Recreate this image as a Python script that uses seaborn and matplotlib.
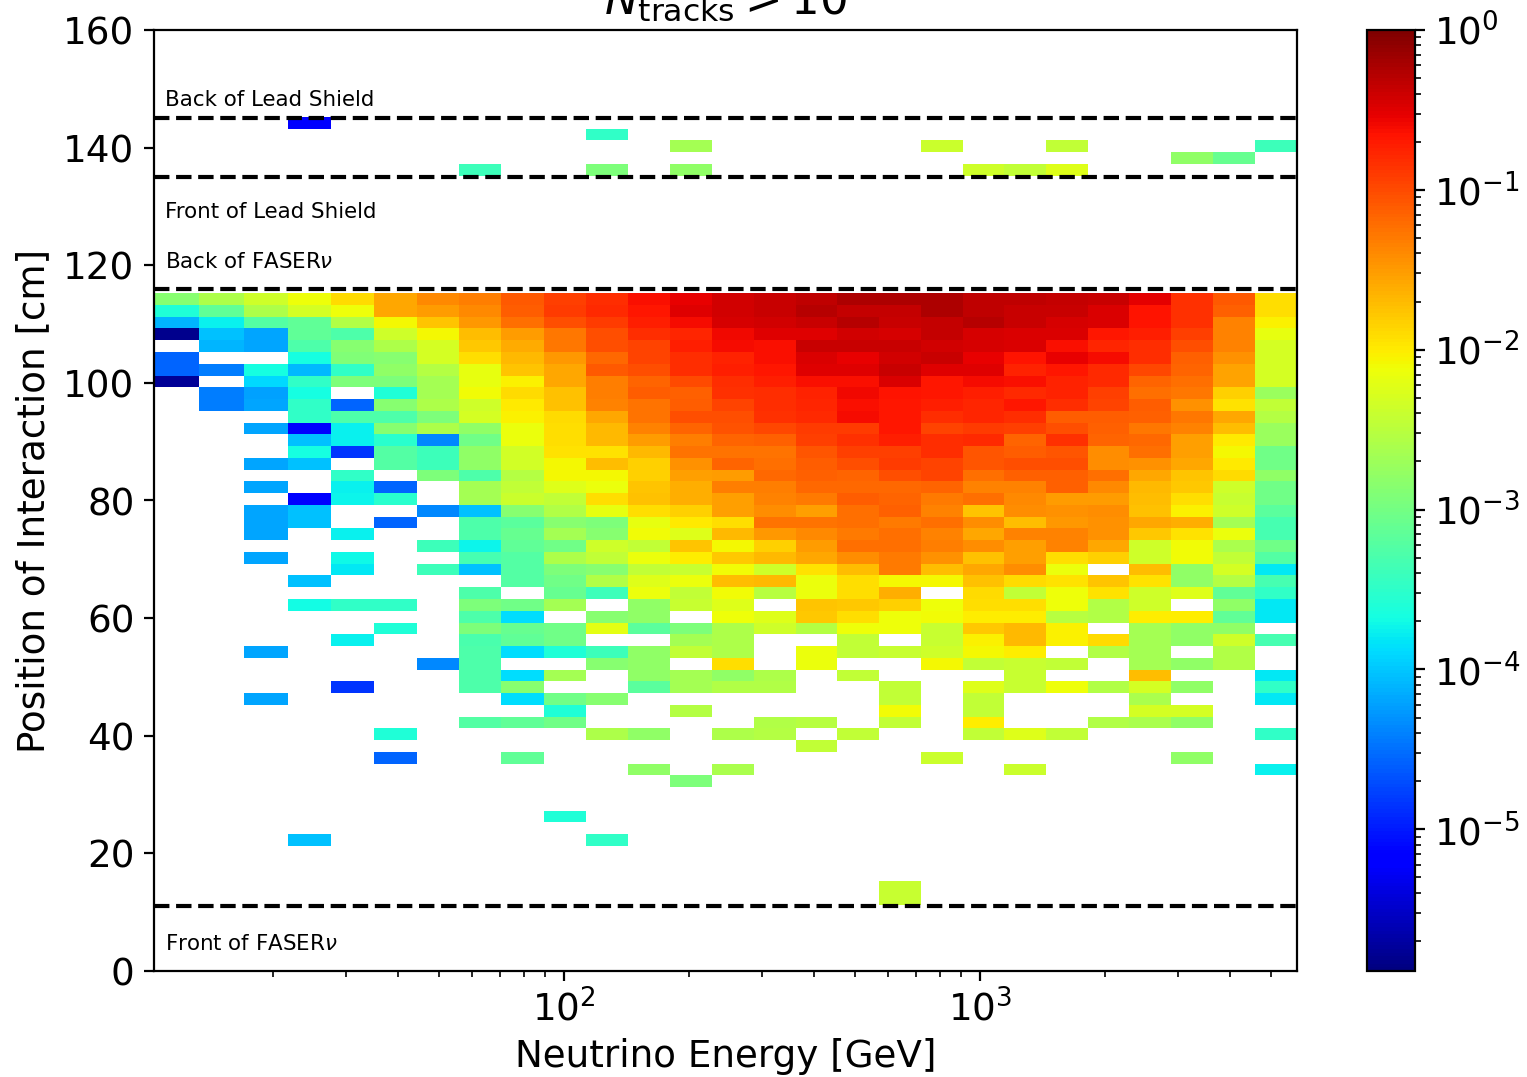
"""Neutrino interaction position vs energy, N_tracks > 10."""
import numpy as np
import pandas as pd
import matplotlib
matplotlib.use("Agg")
import matplotlib.pyplot as plt
from matplotlib.colors import LogNorm
import seaborn as sns

# ── Data ──────────────────────────────────────────────────────────────────────
# energy bin edges [GeV]
energy_edges = [10.34, 13.26, 17.01, 21.7, 27.5, 34.9, 44.3, 55.9, 70.6, 89.5,
                113, 142.5, 179.8, 226.9, 286.3, 361, 453, 572, 721, 910,
                1142, 1441, 1818, 2281, 2878, 3632, 4583, 5781]
# top edge of the dense block and height of a position bin [cm]
block_top = 115.25
bin_height = 2.0
y_floor = 11.25
y_ceiling = 145.25

_ = np.nan
# log10 of the colour value, read per row from the top of the block downwards
block_rows = [
    [-2.87,-2.59,-2.36,-2.13,-1.89,-1.58,-1.38,-1.32,-1.09,-.93,-.82,-.63,-.55,-.42,-.39,-.33,-.24,-.25,-.24,-.33,-.33,-.35,-.39,-.52,-.85,-1.09,-1.93],
    [-3.59,-3.13,-2.59,-2.31,-2.12,-1.58,-1.50,-1.38,-1.12,-.91,-.8,-.67,-.5,-.42,-.39,-.29,-.35,-.35,-.24,-.33,-.37,-.39,-.47,-.65,-.85,-1.13,-1.93],
    [-4.11,-3.77,-3.22,-3.13,-2.56,-2.08,-1.77,-1.48,-1.22,-1.03,-.91,-.72,-.62,-.45,-.42,-.37,-.29,-.39,-.35,-.29,-.39,-.44,-.47,-.65,-.85,-1.35,-2.03],
    [-5.8,-4.04,-4.19,-3.13,-3.27,-2.36,-2.08,-1.71,-1.5,-1.27,-1.03,-.82,-.78,-.58,-.5,-.5,-.42,-.44,-.35,-.44,-.46,-.46,-.68,-.72,-.93,-1.35,-2.18],
    [_,-4.11,-4.19,-3.27,-2.87,-2.59,-2.31,-1.79,-1.59,-1.27,-1.03,-.96,-.72,-.6,-.63,-.39,-.37,-.39,-.42,-.44,-.46,-.63,-.78,-.82,-1.03,-1.35,-2.31],
    [-4.56,_,_,-3.67,-2.91,-2.87,-2.31,-1.93,-1.69,-1.48,-1.19,-.96,-.82,-.75,-.63,-.46,-.55,-.42,-.39,-.53,-.65,-.55,-.6,-.82,-1.13,-1.43,-2.31],
    [-4.56,-4.42,-3.67,-4.08,-3.48,-2.8,-2.53,-2.18,-1.77,-1.58,-1.09,-1.03,-.82,-.72,-.68,-.5,-.5,-.39,-.5,-.5,-.75,-.68,-.8,-.98,-1.17,-1.55,-2.31],
    [-5.75,_,-3.9,-3.48,-2.94,-2.94,-2.65,-2.18,-2.03,-1.58,-1.32,-1.15,-1.0,-.82,-.72,-.63,-.63,-.47,-.68,-.6,-.63,-.75,-.8,-1.15,-1.22,-1.55,-2.31],
    [_,-4.42,-4.21,-3.67,_,-3.59,-2.65,-2.1,-1.89,-1.73,-1.32,-1.12,-1.13,-.85,-.82,-.75,-.58,-.65,-.68,-.72,-.8,-.75,-.93,-1.22,-1.27,-1.82,-2.72],
    [_,-4.42,-4.19,-3.48,-4.56,-2.87,-2.59,-2.36,-1.99,-1.73,-1.35,-1.25,-1.12,-.96,-.82,-.78,-.63,-.68,-.72,-.78,-.68,-.82,-.96,-1.12,-1.43,-1.94,-2.45],
    [_,_,_,-3.48,-3.28,-3.28,-2.94,-2.31,-2.03,-1.89,-1.58,-1.25,-1.03,-1.03,-.85,-.8,-.6,-.68,-.82,-.78,-.82,-1.12,-1.12,-1.13,-1.27,-1.58,-2.53],
    [_,_,-4.19,-5.2,-3.77,-2.87,-2.59,-2.8,-2.15,-1.93,-1.69,-1.35,-1.15,-1.04,-.98,-.91,-.91,-.68,-.96,-.91,-.93,-1.03,-1.13,-1.27,-1.35,-1.71,-2.72],
    [_,_,_,-4.04,-3.77,-3.54,-4.36,-3.03,-2.16,-1.93,-1.69,-1.5,-1.32,-1.17,-1.13,-.93,-.85,-.72,-.82,-.8,-1.17,-.85,-1.17,-1.19,-1.52,-1.99,-2.72],
    [_,_,_,-3.67,-4.85,-3.22,-3.38,-2.8,-2.33,-1.94,-1.94,-1.69,-1.25,-1.25,-1.25,-1.06,-.93,-.93,-.82,-1.06,-1.12,-1.06,-1.41,-1.22,-1.52,-2.09,-3.03],
    [_,_,-4.19,-4.04,_,-3.22,-3.38,-2.8,-2.33,-2.09,-1.71,-1.82,-1.43,-1.17,-1.22,-1.12,-1.03,-.91,-.96,-1.06,-1.03,-1.03,-1.41,-1.43,-1.58,-1.99,-3.03],
    [_,_,_,_,-3.48,_,-2.94,-3.28,-2.53,-2.09,-2.08,-1.82,-1.52,-1.5,-1.19,-1.13,-1.17,-1.03,-.96,-1.22,-1.13,-1.13,-1.22,-1.58,-1.77,-1.89,-2.8],
    [_,_,-4.19,_,-3.77,-4.56,_,-2.65,-2.45,-2.24,-2.16,-1.77,-1.63,-1.32,-1.32,-1.19,-1.19,-1.19,-1.15,-1.35,-1.35,-1.13,-1.38,-1.69,-1.79,-2.36,-3.03],
    [_,_,_,-5.2,-3.74,-3.54,_,-2.65,-2.39,-2.45,-1.93,-1.73,-1.63,-1.52,-1.35,-1.29,-1.12,-1.17,-1.31,-1.22,-1.38,-1.5,-1.5,-1.71,-1.93,-2.41,-3.03],
    [_,_,-4.19,-4.04,_,_,-4.36,-4.04,-2.87,-2.56,-2.18,-1.93,-1.82,-1.52,-1.41,-1.52,-1.22,-1.13,-1.35,-1.77,-1.41,-1.43,-1.41,-1.73,-2.03,-2.36,-3.19],
    [_,_,-4.19,-4.04,_,-4.56,_,-3.28,-3.19,-2.87,-2.94,-2.18,-1.99,-1.93,-1.25,-1.25,-1.22,-1.29,-1.22,-1.41,-1.71,-1.48,-1.43,-1.58,-1.63,-2.65,-3.33],
    [_,_,-4.19,_,-3.77,_,_,-3.28,-3.1,-2.65,-2.87,-2.1,-2.24,-1.69,-1.48,-1.38,-1.31,-1.22,-1.35,-1.57,-1.35,-1.35,-1.43,-1.79,-1.94,-2.16,-3.33],
    [_,_,_,_,_,_,-3.38,-3.74,-3.13,-3.03,-2.36,-2.45,-1.77,-2.08,-1.82,-1.5,-1.22,-1.22,-1.32,-1.41,-1.52,-1.35,-1.57,-2.36,-2.1,-2.62,-3.03],
    [_,_,-4.19,_,-3.72,_,_,-3.33,-3.22,-2.59,-2.45,-2.16,-2.02,-1.79,-1.69,-1.57,-1.41,-1.31,-1.43,-1.73,-1.52,-1.93,-1.82,-2.36,-2.1,-2.45,-3.22],
    [_,_,_,_,-3.81,_,-3.38,-4.04,-3.22,-2.94,-2.87,-2.45,-2.41,-2.1,-2.36,-1.94,-1.71,-1.31,-1.71,-1.58,-1.41,-2.16,_,-1.71,-2.8,-2.31,-3.81],
    [_,_,_,-4.04,_,_,_,_,-3.22,-3.03,-2.56,-2.24,-2.16,-1.71,-1.69,-2.16,-1.93,-2.09,-2.09,-1.73,-1.89,-1.94,-1.77,-1.94,-2.8,-2.53,-3.33],
    [_,_,_,_,_,_,_,-3.28,_,-3.1,-3.38,-2.16,-2.45,-2.1,-2.51,-2.16,-1.93,-1.63,_,-1.89,-2.45,-2.12,-1.94,-2.36,-2.24,-3.13,-3.48],
    [_,_,_,-3.69,-3.48,-3.48,_,-2.94,-3.03,-2.65,_,-2.8,-2.41,-2.24,_,-1.77,-1.79,-1.82,-2.12,-1.93,-1.91,-2.12,-2.56,-2.36,_,-2.8,-3.81],
    [_,_,_,_,_,_,_,-3.28,-3.88,_,-2.87,-2.8,_,-2.12,-2.24,-1.79,-1.93,-2.12,-2.1,-2.02,-2.02,-2.51,-2.56,-2.02,-2.02,-3.13,-3.81],
    [_,_,_,_,_,-3.59,_,-2.94,-3.09,-3.03,-2.2,-3.19,-2.94,-2.59,-2.36,-2.53,-2.12,-2.12,-2.41,-1.79,-1.69,-2.03,_,-2.65,-2.8,-2.8,_],
    [_,_,_,_,-3.77,_,_,-3.31,-3.13,-3.03,_,_,-2.65,-2.59,_,_,-2.45,_,-2.41,-2.03,-1.69,-2.03,-1.89,-2.65,-2.8,-2.36,-3.33],
    [_,_,-4.19,_,_,_,_,-3.28,-3.88,-3.59,-3.38,-2.8,-2.45,-2.59,_,-2.16,-2.45,-2.41,-2.36,-2.09,-2.02,_,-2.56,-2.65,_,-2.56,_],
    [_,_,_,_,_,_,-4.36,-3.28,_,_,-2.87,-2.8,_,-1.93,_,-2.16,_,_,-2.08,-2.45,-2.41,-2.45,_,-2.65,-2.8,-2.56,_],
    [_,_,_,_,_,_,_,-3.28,-3.88,-2.65,_,-2.8,-2.65,-2.8,-2.59,_,-2.45,_,_,_,-2.41,_,_,-1.71,_,_,-3.81],
    [_,_,_,_,-4.85,_,_,-3.28,-2.87,_,_,-3.19,-2.65,-2.56,-2.56,_,_,-2.45,_,-2.24,-2.41,-2.13,-2.56,-2.31,-2.8,_,-3.48],
]
# isolated cells: row counted like block_rows (negative = above the block) -> {energy bin: log10 value}
sparse_rows = {
    34: {2: -4.19, 8: -3.88, 9: -3.03, 10: -2.87, 17: -2.45, 19: -2.45, 23: -2.62, 26: -3.81},
    35: {9: -3.59, 12: -2.53, 17: -2.1, 19: -2.45, 23: -2.31, 24: -2.31},
    36: {7: -3.22, 8: -3.13, 9: -3.03, 14: -2.56, 15: -2.51, 17: -2.45, 19: -2.02, 22: -2.56, 23: -2.62, 24: -2.8},
    37: {5: -3.59, 10: -2.59, 11: -2.8, 13: -2.59, 14: -2.53, 16: -2.45, 19: -2.45, 20: -2.24, 21: -2.45, 26: -3.48},
    38: {15: -2.45},
    39: {5: -4.56, 8: -3.13, 18: -2.39, 24: -2.8},
    40: {11: -2.8, 13: -2.62, 20: -2.39, 26: -3.77},
    41: {12: -2.94},
    44: {9: -3.59},
    46: {3: -4.04, 10: -3.48},
    50: {17: -2.41},
    51: {17: -2.41},
    -11: {7: -3.38, 10: -2.94, 12: -2.8, 19: -2.36, 20: -2.45, 21: -2.24},
    -12: {24: -2.8, 25: -3.1},
    -13: {12: -2.65, 18: -2.39, 21: -2.45, 26: -3.38},
    -14: {10: -3.48},
    -15: {3: -5.2},
}
detector_lines = [145, 135, 116, 11]
detector_labels = ["Back of Lead Shield", "Front of Lead Shield", "Back of FASER$\\nu$", "Front of FASER$\\nu$"]
label_heights = [147, 128, 119.6, 3.6]
y_ticks = list(range(0, 161, 20))

# ── Table for the histogram ───────────────────────────────────────────────────
edges = np.array(energy_edges)
centers = np.sqrt(edges[:-1] * edges[1:])
records = []
for r, row in enumerate(block_rows):
    for c, val in enumerate(row):
        if not np.isnan(val):
            records.append((centers[c], block_top - bin_height * (r + 0.5), 10.0 ** val))
for r, cells in sparse_rows.items():
    for c, val in cells.items():
        records.append((centers[c], block_top - bin_height * (r + 0.5), 10.0 ** val))
df = pd.DataFrame(records, columns=["energy", "position", "value"])
y_edges = np.arange(y_floor, y_ceiling + 0.01, bin_height)

# ── Figure ────────────────────────────────────────────────────────────────────
W, H = 1527, 1077
FS = 13.4
fig = plt.figure(figsize=(W / 200, H / 200), dpi=200)
ax = fig.add_axes([154 / W, 1 - 971 / H, (1297 - 154) / W, (971 - 30) / H])
cax = fig.add_axes([1367 / W, 1 - 971 / H, (1415 - 1367) / W, (971 - 30) / H])

sns.histplot(data=df, x="energy", y="position", weights="value",
             bins=[np.log10(edges), y_edges], log_scale=(True, False),
             cmap=plt.get_cmap("jet"), ax=ax)
# histplot fixes a linear vmin/vmax, so the log norm goes on the mesh afterwards
mesh = ax.collections[0]
mesh.set_norm(LogNorm(vmin=1.3e-6, vmax=1))
fig.colorbar(mesh, cax=cax)

for y in detector_lines:
    ax.axhline(y, color="black", linestyle="--", linewidth=1.5)
for label, y in zip(detector_labels, label_heights):
    ax.text(11, y, label, fontsize=7.7, color="black")

ax.set_xlim(edges[0], edges[-1])
ax.set_ylim(0, 160)
ax.set_yticks(y_ticks)
ax.tick_params(labelsize=FS)
ax.set_xlabel("Neutrino Energy [GeV]", fontsize=FS, labelpad=3)
ax.set_ylabel("Position of Interaction [cm]", fontsize=FS)
ax.set_title("$N_{\\mathrm{tracks}} > 10$", fontsize=16.2)
cax.tick_params(labelsize=FS)

fig.savefig("out.png", dpi=200)
